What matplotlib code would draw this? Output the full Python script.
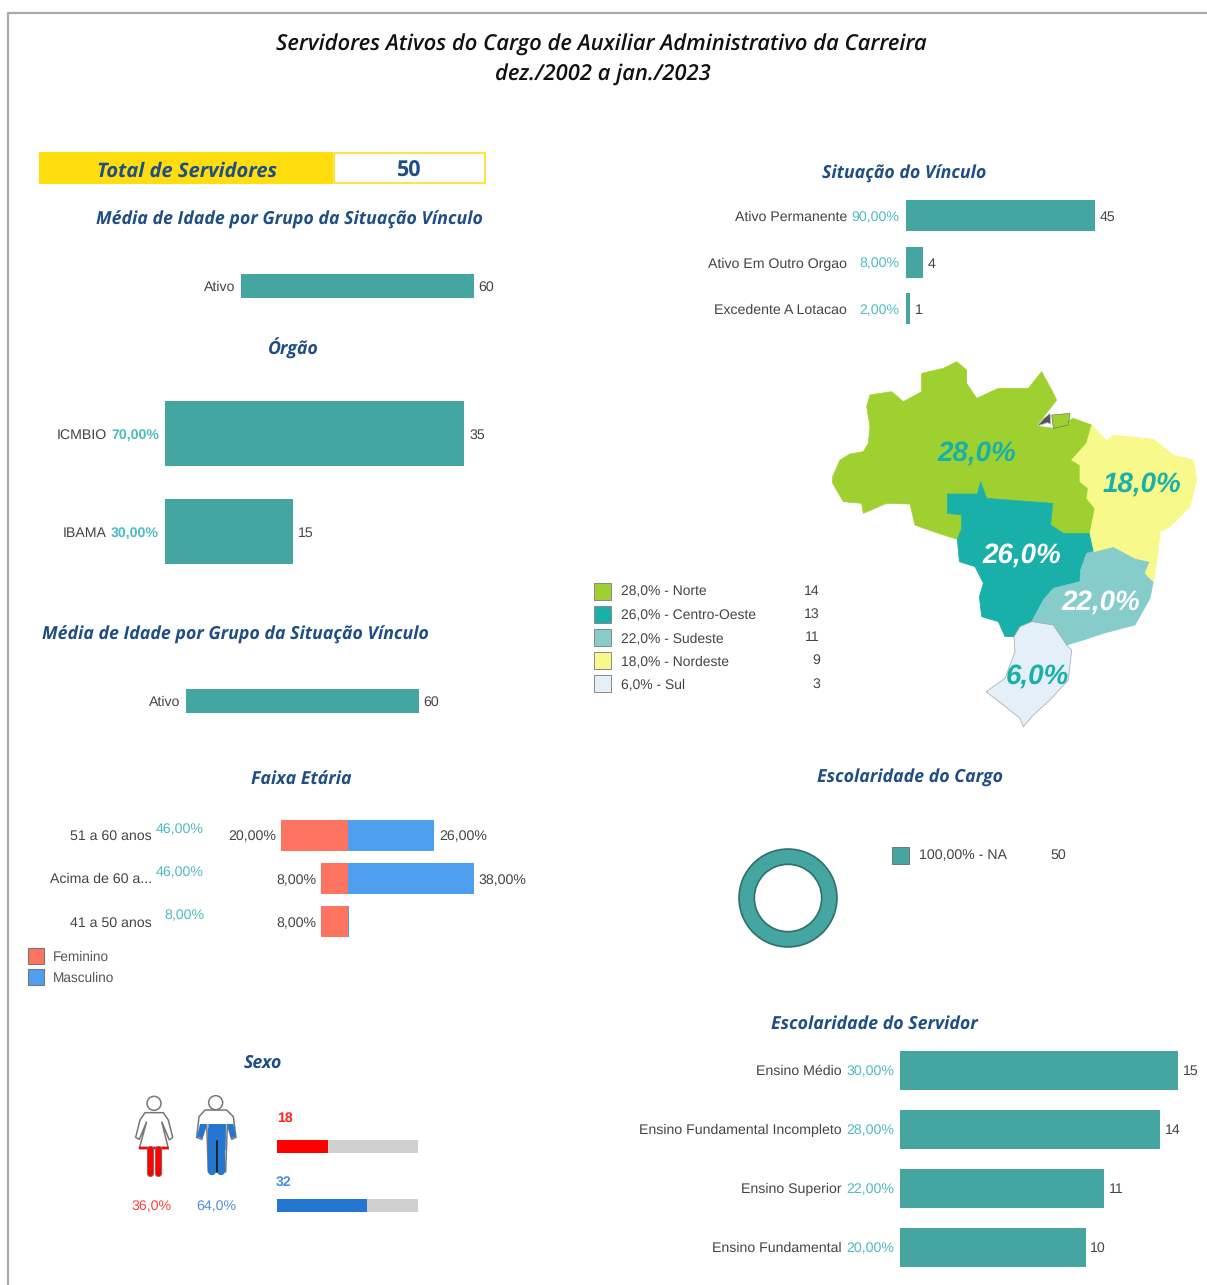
import matplotlib
matplotlib.use("Agg")
import matplotlib.pyplot as plt
from matplotlib.patches import Polygon, Rectangle, Circle

plt.rcParams["text.hinting"] = "none"
plt.rcParams["text.hinting_factor"] = 8

W, H = 1207, 1285
SANS = ["Liberation Sans", "DejaVu Sans"]
TITLE_FONT = ["Open Sans", "DejaVu Sans"]
TEAL = "#45A5A0"
TITLE_BLUE = "#1F4E85"
PCT_TEAL = "#4DBBC0"
GREY_TEXT = "#444444"
LABEL_SIZE = 10.2

main_title = ["Servidores Ativos do Cargo de Auxiliar Administrativo da Carreira", "dez./2002 a jan./2023"]
total_servidores = 50

vinculo_labels = ["Ativo Permanente", "Ativo Em Outro Orgao", "Excedente A Lotacao"]
vinculo_pct = ["90,00%", "8,00%", "2,00%"]
vinculo_values = [45, 4, 1]

idade_labels = ["Ativo"]
idade_values = [60]

orgao_labels = ["ICMBIO", "IBAMA"]
orgao_pct = ["70,00%", "30,00%"]
orgao_values = [35, 15]

faixa_labels = ["51 a 60 anos", "Acima de 60 a...", "41 a 50 anos"]
faixa_total = ["46,00%", "46,00%", "8,00%"]
faixa_fem = [20, 8, 8]
faixa_masc = [26, 38, 0.4]
faixa_fem_txt = ["20,00%", "8,00%", "8,00%"]
faixa_masc_txt = ["26,00%", "38,00%", ""]

servidor_labels = ["Ensino Médio", "Ensino Fundamental Incompleto", "Ensino Superior", "Ensino Fundamental"]
servidor_pct = ["30,00%", "28,00%", "22,00%", "20,00%"]
servidor_values = [15, 14, 11, 10]

regiao_labels = ["28,0% - Norte", "26,0% - Centro-Oeste", "22,0% - Sudeste", "18,0% - Nordeste", "6,0% - Sul"]
regiao_values = [14, 13, 11, 9, 3]
regiao_colors = ["#9ED130", "#1AB0AA", "#86CCCB", "#F7F98B", "#E4EFF8"]

sexo_labels = ["Feminino", "Masculino"]
sexo_values = [18, 32]
sexo_pct = ["36,0%", "64,0%"]
sexo_colors = ["#FF0000", "#2477D0"]
faixa_colors = ["#FF7361", "#4F9FEF"]

# map outlines
norte = [(38,380),(60,330),(90,312),(130,305),(145,280),(150,230),(140,170),(150,135),(215,125),(250,155),
         (305,125),(305,70),(370,55),(410,35),(440,60),(440,100),(470,145),(535,115),(625,115),(665,65),
         (695,120),(710,150),(675,195),(650,228),(700,235),(760,205),(815,225),(800,280),(755,330),(780,345),
         (780,395),(805,415),(800,445),(825,475),(810,550),(730,550),(692,525),(698,460),(500,445),(482,395),
         (472,432),(382,432),(382,490),(425,495),(425,535),(412,568),(340,545),(285,525),(270,462),(200,460),
         (130,490),(125,460),(70,455),(38,400)]
amapa_ilha = [(695,195),(750,190),(745,225),(700,235)]
estuario = [(652,228),(672,205),(690,190),(692,222),(682,218)]
centro = [(382,432),(472,432),(482,395),(500,445),(698,460),(692,525),(730,550),(810,550),(822,605),(800,610),
          (782,660),(780,695),(700,715),(670,750),(635,815),(600,830),(582,860),(555,860),(535,815),(485,800),
          (478,740),(490,700),(465,650),(418,635),(412,568),(425,535),(425,495),(382,490)]
nordeste = [(815,225),(860,272),(880,255),(1000,268),(1060,315),(1120,330),(1130,390),(1110,470),(1050,530),
            (1020,545),(1015,600),(1000,695),(975,670),(990,635),(945,625),(880,590),(822,605),(810,550),
            (825,475),(800,445),(805,415),(780,395),(780,345),(755,330),(800,280)]
sudeste = [(822,605),(880,590),(945,625),(990,635),(975,670),(1000,695),(990,745),(945,825),(850,850),(790,870),
           (740,885),(700,825),(635,815),(670,750),(700,715),(780,695),(782,660),(800,610)]
sul = [(600,830),(635,815),(700,825),(740,885),(755,900),(745,990),(690,1050),(640,1095),(610,1130),(600,1105),
       (550,1065),(498,1025),(555,985),(585,905),(582,860)]
mapa_txt = ["28,0%", "26,0%", "22,0%", "18,0%", "6,0%"]

fig = plt.figure(figsize=(W / 100, H / 100), dpi=100, facecolor="white")
bg = fig.add_axes([0, 0, 1, 1])
bg.set_xlim(0, W)
bg.set_ylim(H, 0)
bg.axis("off")


def txt(x, y, s, size=LABEL_SIZE, color=GREY_TEXT, ha="left", **kw):
    kw.setdefault("family", SANS)
    bg.text(x, y + 1.5, s, fontsize=size, color=color, ha=ha, va="center", **kw)


def panel_title(x, y, s):
    txt(x, y, s, size=12.75, color=TITLE_BLUE, ha="center", family=TITLE_FONT, style="italic", weight="bold")


def bar_panel(x0, y_first, step, height, px_unit, values, names, pcts=None, pct_bold=False, name_gap=6):
    n = len(values)
    top = y_first - step / 2
    ax = fig.add_axes([x0 / W, 1 - (top + step * n) / H, max(values) * px_unit / W, step * n / H])
    ax.barh(range(n), values, height=height / step, color=TEAL)
    ax.set_xlim(0, max(values))
    ax.set_ylim(n - 0.5, -0.5)
    ax.axis("off")
    for i, v in enumerate(values):
        ax.annotate(str(v), (v, i), xytext=(3.5, -1), textcoords="offset points", va="center",
                    fontsize=LABEL_SIZE, color=GREY_TEXT, family=SANS, annotation_clip=False)
        yc = y_first + i * step
        right = x0 - name_gap
        if pcts:
            txt(right, yc, pcts[i], color=PCT_TEAL, ha="right", weight="bold" if pct_bold else "normal")
            right -= 52
        txt(right, yc, names[i], ha="right")


# frame
bg.plot([8, 8, W], [H, 13, 13], color="#A9A9A9", lw=1.6)

bg.text(601, 45, main_title[0], fontsize=15.8, style="italic", weight="semibold", family=TITLE_FONT,
        ha="center", va="center", color="#111111")
bg.text(603, 75, main_title[1], fontsize=15.8, style="italic", weight="semibold", family=TITLE_FONT,
        ha="center", va="center", color="#111111")

# total box
bg.add_patch(Rectangle((39, 152), 295, 32, fc="#FFDD0F", ec="none"))
bg.add_patch(Rectangle((334, 153), 151, 30, fc="white", ec="#FFE24A", lw=1.5))
txt(187, 170, "Total de Servidores", size=14.5, color=TITLE_BLUE, ha="center", family=TITLE_FONT, style="italic", weight="bold")
txt(409, 169.5, str(total_servidores), size=15.5, color=TITLE_BLUE, ha="center", family=TITLE_FONT, weight="bold")

panel_title(289, 218.5, "Média de Idade por Grupo da Situação Vínculo")
bar_panel(241, 286, 40, 24, 3.88, idade_values, idade_labels)

panel_title(293, 346.5, "Órgão")
bar_panel(165, 433.5, 98, 65, 8.55, orgao_values, orgao_labels, orgao_pct, pct_bold=True)

panel_title(235, 633.5, "Média de Idade por Grupo da Situação Vínculo")
bar_panel(186, 701, 40, 24, 3.88, idade_values, idade_labels)

panel_title(904, 172.5, "Situação do Vínculo")
bar_panel(906, 216, 46.5, 31, 4.2, vinculo_values, vinculo_labels, vinculo_pct, name_gap=7)

# faixa etaria, diverging around x=347
panel_title(301, 777.5, "Faixa Etária")
ax = fig.add_axes([281 / W, 1 - 943.5 / H, 193 / W, 129.5 / H])
ypos = range(len(faixa_labels))
ax.barh(ypos, [-v for v in faixa_fem], height=31 / 43.2, color=faixa_colors[0])
ax.barh(ypos, faixa_masc, height=31 / 43.2, color=faixa_colors[1])
ax.set_xlim(-20, 38)
ax.set_ylim(2.5, -0.5)
ax.axis("off")
for i in ypos:
    ax.annotate(faixa_fem_txt[i], (-faixa_fem[i], i), xytext=(-3.5, -1), textcoords="offset points", ha="right",
                va="center", fontsize=LABEL_SIZE, color=GREY_TEXT, family=SANS, annotation_clip=False)
    if faixa_masc_txt[i]:
        ax.annotate(faixa_masc_txt[i], (faixa_masc[i], i), xytext=(3.5, -1), textcoords="offset points",
                    va="center", fontsize=LABEL_SIZE, color=GREY_TEXT, family=SANS, annotation_clip=False)
    yc = 835 + i * 43.2
    txt(152, yc, faixa_labels[i], ha="right")
    txt(204, yc - 7, faixa_total[i], color=PCT_TEAL, ha="right")
for i, name in enumerate(sexo_labels[:2]):
    yc = 956 + i * 21
    bg.add_patch(Rectangle((28, yc - 8), 16, 16, fc=faixa_colors[i], ec="#777777", lw=0.8))
    txt(53, yc - 0.5, name, size=9.8, color="#555555")

# mapa
def to_px(pts):
    return [(820 + a / 3, 350 + b / 3) for a, b in pts]


for pts, c in zip([norte, centro, sudeste, nordeste, sul], regiao_colors):
    bg.add_patch(Polygon(to_px(pts), closed=True, fc=c, ec="#9AA8B0" if c == regiao_colors[4] else c, lw=0.5))
bg.add_patch(Polygon(to_px(estuario), closed=True, fc="#555555", ec="#BBBBBB", lw=0.5))
bg.add_patch(Polygon(to_px(amapa_ilha), closed=True, fc=regiao_colors[0], ec="#666666", lw=0.4))
map_txt_pos = [(977, 453), (1022, 555), (1101, 602), (1142, 484), (1037, 676)]
map_txt_col = ["#1AB0AA", "white", "white", "#1AB0AA", "#1AB0AA"]
for (x, y), s, c in zip(map_txt_pos, mapa_txt, map_txt_col):
    txt(x, y - 1, s, size=20, color=c, ha="center", style="italic", weight="bold")
for i, name in enumerate(regiao_labels):
    yc = 591 + i * 23.2
    bg.add_patch(Rectangle((594, yc - 8.5), 17, 17, fc=regiao_colors[i], ec="#888888", lw=0.7))
    txt(621, yc - 0.5, name, size=10)
    txt(820, yc - 1.5, str(regiao_values[i]), ha="right")

# donut
panel_title(910, 776.5, "Escolaridade do Cargo")
ax = fig.add_axes([(788 - 51) / W, 1 - (898 + 51) / H, 102 / W, 102 / H])
ax.pie([100], colors=[TEAL], radius=0.96, wedgeprops=dict(width=0.3, edgecolor="#2F6F6C", linewidth=1.2))
ax.set_xlim(-1, 1)
ax.set_ylim(-1, 1)
bg.add_patch(Rectangle((892, 847), 17, 17, fc=TEAL, ec="#777777", lw=0.7))
txt(919, 854.5, "100,00% - NA")
txt(1050, 853.5, "50")

panel_title(874, 1022.5, "Escolaridade do Servidor")
bar_panel(900, 1070, 59, 39, 18.55, servidor_values, servidor_labels, servidor_pct)

# sexo
panel_title(263, 1061.5, "Sexo")
total = sum(sexo_values)
for i, yc in enumerate([1146, 1205]):
    ax = fig.add_axes([277 / W, 1 - (yc + 6.5) / H, 141 / W, 13 / H])
    ax.barh([0], [total], height=1, color="#CFCFCF")
    ax.barh([0], [sexo_values[i]], height=1, color=sexo_colors[i])
    ax.set_xlim(0, total)
    ax.set_ylim(-0.5, 0.5)
    ax.axis("off")
txt(277, 1117, str(sexo_values[0]), color="#FF2020", weight="bold")
txt(276, 1181, str(sexo_values[1]), color="#4A8FDC", weight="bold")
txt(151, 1205, sexo_pct[0], color="#FF4040", ha="center")
txt(216, 1205, sexo_pct[1], color="#5090DC", ha="center")


def pic(pts):
    return [(20 + a / 3, 1050 + b / 3) for a, b in pts]


def stroke(a, b, color, lw):
    p = pic([a, b])
    bg.plot([p[0][0], p[1][0]], [p[0][1], p[1][1]], color=color, lw=lw, solid_capstyle="round")


OUT = "#777777"
# mulher
mulher = [(375,188),(430,188),(445,210),(458,262),(448,270),(425,215),(445,295),(358,295),(380,215),(358,268),(347,262),(360,210)]
bg.add_patch(Polygon(pic(mulher), closed=True, fc="white", ec=OUT, lw=1.1))
bg.add_patch(Polygon(pic([(358,290),(445,290),(447,298),(356,298)]), closed=True, fc="#FF0000", ec="none"))
for a in [390, 413]:
    stroke((a, 298), (a, 368), OUT, 5.2)
    stroke((a, 298), (a, 368), "#FF0000", 3.9)
bg.add_patch(Circle((20 + 402 / 3, 1050 + 160 / 3), 7, fc="white", ec=OUT, lw=1.1))
# homem
homem = [(555,180),(620,180),(640,200),(648,262),(635,268),(622,222),(617,365),(565,365),(560,222),(545,268),(530,262),(537,200)]
bg.add_patch(Polygon(pic(homem), closed=True, fc="white", ec=OUT, lw=1.1))
for a in [577, 604]:
    stroke((a, 240), (a, 362), sexo_colors[1], 6)
bg.add_patch(Polygon(pic([(565,222),(618,222),(617,300),(565,300)]), closed=True, fc=sexo_colors[1], ec="none"))
bg.add_patch(Polygon(pic([(540,222),(560,222),(546,265),(531,260)]), closed=True, fc=sexo_colors[1], ec="none"))
bg.add_patch(Polygon(pic([(622,222),(640,222),(648,260),(634,265)]), closed=True, fc=sexo_colors[1], ec="none"))
stroke((590, 272), (590, 365), "#222222", 1.4)
bg.add_patch(Circle((20 + 587 / 3, 1050 + 158 / 3), 7, fc="white", ec=OUT, lw=1.1))

fig.savefig("out.png", dpi=100)
